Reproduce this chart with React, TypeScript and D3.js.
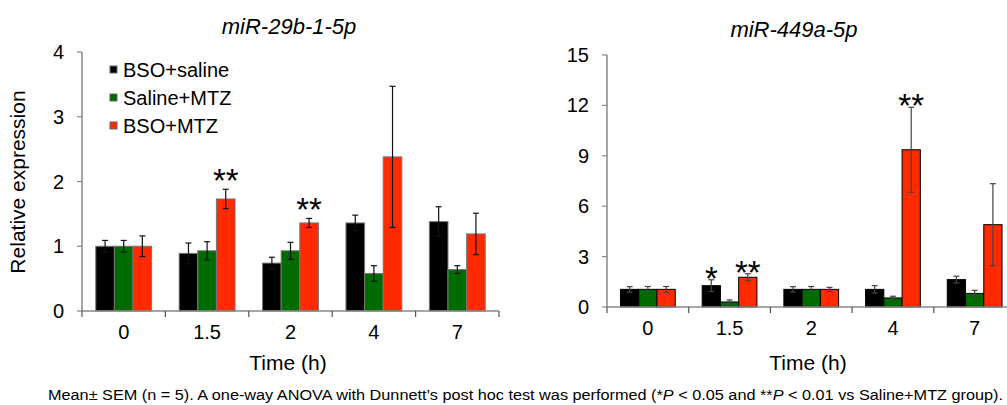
import React from 'react';
import * as d3 from 'd3';

// categories
const times = ['0', '1.5', '2', '4', '7'];
const groups = ['BSO+saline', 'Saline+MTZ', 'BSO+MTZ'];
const colors = ['#000000', '#006b00', '#ff2a00'];

// miR-29b-1-5p, mean and SEM per group
const mir29BsoSaline = [1.0, 0.89, 0.74, 1.36, 1.38];
const mir29BsoSalineSem = [0.09, 0.16, 0.09, 0.12, 0.23];
const mir29SalineMtz = [1.0, 0.93, 0.93, 0.58, 0.64];
const mir29SalineMtzSem = [0.09, 0.14, 0.13, 0.12, 0.06];
const mir29BsoMtz = [1.0, 1.73, 1.36, 2.38, 1.19];
const mir29BsoMtzSem = [0.16, 0.15, 0.07, 1.09, 0.32];
const mir29Ticks = [0, 1, 2, 3, 4];
const mir29Stars = [['1.5', 'BSO+MTZ', '**'], ['2', 'BSO+MTZ', '**']];

// miR-449a-5p
const mir449BsoSaline = [1.05, 1.27, 1.05, 1.05, 1.63];
const mir449BsoSalineSem = [0.16, 0.35, 0.16, 0.22, 0.2];
const mir449SalineMtz = [1.05, 0.3, 1.05, 0.54, 0.81];
const mir449SalineMtzSem = [0.17, 0.12, 0.17, 0.1, 0.18];
const mir449BsoMtz = [1.05, 1.77, 1.05, 9.36, 4.9];
const mir449BsoMtzSem = [0.17, 0.21, 0.12, 2.53, 2.44];
const mir449Ticks = [0, 3, 6, 9, 12, 15];
const mir449Stars = [['1.5', 'BSO+saline', '*'], ['1.5', 'BSO+MTZ', '**'], ['4', 'BSO+MTZ', '**']];

const font = '"Liberation Sans", Arial, sans-serif';

type PanelProps = {
  title: string;
  means: number[][];
  sems: number[][];
  ticks: number[];
  stars: string[][];
  x0: number; x1: number; yTop: number; yBottom: number;
  barStroke: string; errColor: string; starGap: number;
  titleX: number; titleY: number; axisTitleX: number;
  yLabel?: boolean; legend?: boolean;
};

const Panel = (p: PanelProps) => {
  const maxV = p.ticks[p.ticks.length - 1];
  const y = d3.scaleLinear().domain([0, maxV]).range([p.yBottom, p.yTop]);
  const x = d3.scaleBand().domain(times).range([p.x0, p.x1]).padding(0);
  const bw = x.bandwidth();
  const inner = d3.scaleBand().domain(groups).range([bw * 0.165, bw * 0.835]).padding(0);
  const cap = 3;

  const errTop = (ti: number, gi: number) => y(p.means[gi][ti] + p.sems[gi][ti]);

  return (
    <g>
      <text x={p.titleX} y={p.titleY} textAnchor="middle" fontStyle="italic" fontSize={22} fontFamily={font}>{p.title}</text>
      {/* bars */}
      {times.map((t, ti) => groups.map((g, gi) => {
        const v = p.means[gi][ti];
        const bx = (x(t) as number) + (inner(g) as number);
        return (
          <rect key={t + g} x={bx} y={y(v)} width={inner.bandwidth()} height={y(0) - y(v)}
            fill={colors[gi]} stroke={p.barStroke} strokeWidth={1} />
        );
      }))}
      {/* error bars */}
      {times.map((t, ti) => groups.map((g, gi) => {
        const v = p.means[gi][ti];
        const s = p.sems[gi][ti];
        const cx = (x(t) as number) + (inner(g) as number) + inner.bandwidth() / 2;
        return (
          <g key={'e' + t + g} stroke={p.errColor} strokeWidth={1.2}>
            <line x1={cx} x2={cx} y1={y(v + s)} y2={y(v - s)} />
            <line x1={cx - cap} x2={cx + cap} y1={y(v + s)} y2={y(v + s)} />
            <line x1={cx - cap} x2={cx + cap} y1={y(v - s)} y2={y(v - s)} />
          </g>
        );
      }))}
      {/* stars */}
      {p.stars.map(([t, g, lab]) => {
        const ti = times.indexOf(t);
        const gi = groups.indexOf(g);
        const cx = (x(t) as number) + (inner(g) as number) + inner.bandwidth() / 2;
        return (
          <text key={'s' + t + g} x={cx} y={errTop(ti, gi) - p.starGap + 17} textAnchor="middle"
            fontSize={33} fontFamily={font}>{lab}</text>
        );
      })}
      {/* axes */}
      <line x1={p.x0} x2={p.x0} y1={y(maxV)} y2={y(0)} stroke="#888" strokeWidth={1.5} />
      <line x1={p.x0} x2={p.x1} y1={y(0)} y2={y(0)} stroke="#888" strokeWidth={1.5} />
      {p.ticks.map(tk => (
        <g key={'yt' + tk}>
          <line x1={p.x0 - 5} x2={p.x0} y1={y(tk)} y2={y(tk)} stroke="#888" strokeWidth={1.2} />
          <text x={p.x0 - 18} y={y(tk) + 7} textAnchor="end" fontSize={20} fontFamily={font}>{tk}</text>
        </g>
      ))}
      {[...times.map(t => x(t) as number), p.x1].map((tx, i) => (
        <line key={'xt' + i} x1={tx} x2={tx} y1={y(0)} y2={y(0) + 6} stroke="#555" strokeWidth={1.2} />
      ))}
      {times.map(t => (
        <text key={'xl' + t} x={(x(t) as number) + bw / 2} y={y(0) + 28} textAnchor="middle" fontSize={20} fontFamily={font}>{t}</text>
      ))}
      <text x={p.axisTitleX} y={370} textAnchor="middle" fontSize={21} fontFamily={font}>Time (h)</text>
      {p.yLabel && (
        <text transform="translate(25,182) rotate(-90)" textAnchor="middle" fontSize={21} fontFamily={font}>Relative expression</text>
      )}
      {p.legend && groups.map((g, gi) => (
        <g key={'lg' + g}>
          <rect x={110} y={66 + gi * 28} width={7} height={7} fill={colors[gi]} stroke="#666" strokeWidth={1} />
          <text x={123} y={77 + gi * 28} fontSize={20} fontFamily={font}>{g}</text>
        </g>
      ))}
    </g>
  );
};

const App = () => (
  <svg width={1007} height={405} style={{ position: 'absolute', left: 0, top: 0, background: '#fff' }}>
    <Panel title="miR-29b-1-5p"
      means={[mir29BsoSaline, mir29SalineMtz, mir29BsoMtz]}
      sems={[mir29BsoSalineSem, mir29SalineMtzSem, mir29BsoMtzSem]}
      ticks={mir29Ticks} stars={mir29Stars}
      x0={82} x1={499} yTop={52} yBottom={311}
      barStroke="#777" errColor="#111" starGap={14}
      titleX={289} titleY={34} axisTitleX={288} yLabel legend />
    <Panel title="miR-449a-5p"
      means={[mir449BsoSaline, mir449SalineMtz, mir449BsoMtz]}
      sems={[mir449BsoSalineSem, mir449SalineMtzSem, mir449BsoMtzSem]}
      ticks={mir449Ticks} stars={mir449Stars}
      x0={607} x1={1015.5} yTop={55} yBottom={307}
      barStroke="#000" errColor="#444" starGap={7}
      titleX={794} titleY={37} axisTitleX={808} />
    <text x={48} y={400} fontSize={14} fontFamily={font} textLength={955} lengthAdjust="spacingAndGlyphs">
      Mean± SEM (n = 5). A one-way ANOVA with Dunnett’s post hoc test was performed (*<tspan fontStyle="italic">P</tspan> &lt; 0.05 and **<tspan fontStyle="italic">P</tspan> &lt; 0.01 vs Saline+MTZ group).
    </text>
  </svg>
);

export default App;
